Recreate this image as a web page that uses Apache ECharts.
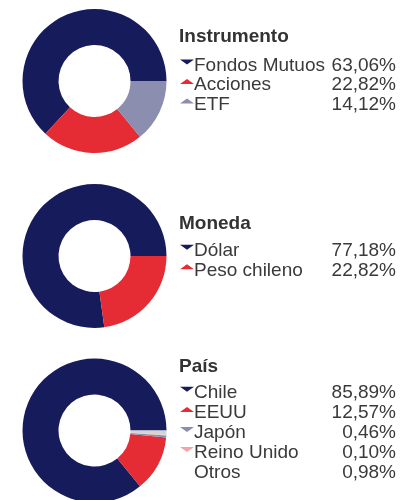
<!DOCTYPE html>
<html>
<head>
<meta charset="utf-8">
<script src="https://cdn.jsdelivr.net/npm/echarts@6/dist/echarts.min.js"></script>
<style>
  html, body { margin: 0; padding: 0; background: #ffffff; }
  #chart { width: 413px; height: 500px; }
</style>
</head>
<body>
<div id="chart"></div>
<script>
// ---- Data ----
const instrumentoNames = ['Fondos Mutuos', 'Acciones', 'ETF'];
const instrumentoValues = [63.06, 22.82, 14.12];

const monedaNames = ['Dólar', 'Peso chileno'];
const monedaValues = [77.18, 22.82];

const paisNames = ['Chile', 'EEUU', 'Japón', 'Reino Unido', 'Otros'];
const paisValues = [85.89, 12.57, 0.46, 0.10, 0.98];

const groupTitles = ['Instrumento', 'Moneda', 'País'];

// ---- Styles ----
const NAVY = '#161b5c', RED = '#e52b34', LNAVY = '#8b8eae', PINK = '#f4a3a8', GREY = '#d4d4d8';
const instrumentoColors = [NAVY, RED, LNAVY];
const monedaColors = [NAVY, RED];
const paisColors = [NAVY, RED, LNAVY, PINK, GREY];
const DOWN = 'path://M0,0L14,0L7,5Z M0,12L0.01,12Z';
const UP = 'path://M7,0L14,5L0,5Z M0,12L0.01,12Z';
const instrumentoIcons = [DOWN, UP, UP];
const monedaIcons = [DOWN, UP];
const paisIcons = [DOWN, UP, DOWN, DOWN, 'none'];

const FONT = "'Liberation Sans', Arial, sans-serif";
const TEXT = '#3a3a3a';

function fmt(v) { return v.toFixed(2).replace('.', ',') + '%'; }

function buildPie(names, values, colors, cy) {
  return {
    type: 'pie',
    center: [94.5, cy],
    radius: [36, 72],
    startAngle: 0,
    clockwise: false,
    silent: true,
    label: { show: false },
    labelLine: { show: false },
    emphasis: { disabled: true },
    itemStyle: { borderWidth: 0 },
    data: names.map((n, i) => ({ name: n, value: values[i], itemStyle: { color: colors[i], borderWidth: 0 } }))
  };
}

const richText = {
  n: { width: 137, fontSize: 19, fontFamily: FONT, color: TEXT, lineHeight: 20 },
  v: { width: 65, align: 'right', fontSize: 19, fontFamily: FONT, color: TEXT, lineHeight: 20 },
  e: { fontSize: 19, fontFamily: FONT, lineHeight: 20 }
};

// icon-only legend
function buildIconLegend(names, icons, top, gap) {
  return {
    orient: 'vertical',
    left: 180,
    top: top,
    padding: 0,
    itemGap: gap,
    itemWidth: 14,
    itemHeight: 12,
    selectedMode: false,
    itemStyle: { borderWidth: 0 },
    data: names.map((n, i) => ({ name: n, icon: icons[i], itemStyle: { borderWidth: 0 } })),
    formatter: () => '{e| }',
    textStyle: { fontFamily: FONT, fontSize: 19, rich: richText }
  };
}

// text-only legend (name + value)
function buildTextLegend(names, values, top, gap) {
  const map = {};
  names.forEach((n, i) => { map[n] = fmt(values[i]); });
  return {
    orient: 'vertical',
    left: 189,
    top: top,
    padding: 0,
    itemGap: gap,
    itemWidth: 0,
    itemHeight: 12,
    selectedMode: false,
    data: names.map((n) => ({ name: n, icon: 'none' })),
    formatter: (name) => '{n|' + name + '}{v|' + map[name] + '}',
    textStyle: { fontFamily: FONT, fontSize: 19, color: TEXT, rich: richText }
  };
}

function buildTitle(text, top) {
  return {
    text: text,
    left: 179,
    top: top,
    padding: 0,
    textStyle: { fontFamily: FONT, fontSize: 19, fontWeight: 'bold', color: '#333333', lineHeight: 20 }
  };
}

const chart = echarts.init(document.getElementById('chart'), null, { renderer: 'canvas' });
chart.setOption({
  animation: false,
  backgroundColor: '#ffffff',
  title: [
    buildTitle(groupTitles[0], 27),
    buildTitle(groupTitles[1], 213.3),
    buildTitle(groupTitles[2], 356.3)
  ],
  legend: [
    buildIconLegend(instrumentoNames, instrumentoIcons, 56.1, 0.45),
    buildTextLegend(instrumentoNames, instrumentoValues, 56.1, 0.45),
    buildIconLegend(monedaNames, monedaIcons, 241.3, 0.5),
    buildTextLegend(monedaNames, monedaValues, 241.3, 0.5),
    buildIconLegend(paisNames, paisIcons, 383.3, 1.1),
    buildTextLegend(paisNames, paisValues, 383.3, 1.1)
  ],
  series: [
    buildPie(instrumentoNames, instrumentoValues, instrumentoColors, 81),
    buildPie(monedaNames, monedaValues, monedaColors, 256),
    buildPie(paisNames, paisValues, paisColors, 430.5)
  ]
});
</script>
</body>
</html>
